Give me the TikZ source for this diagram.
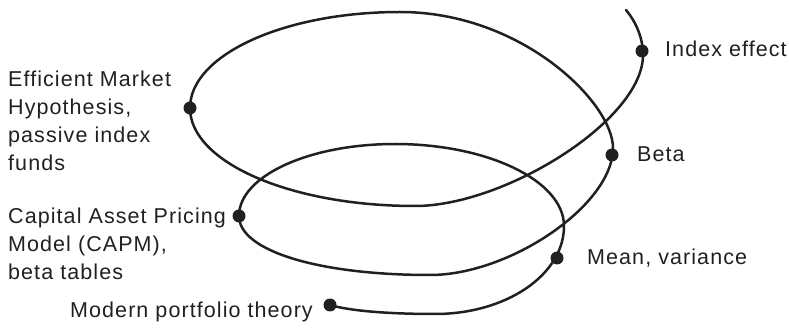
\documentclass[tikz,border=0pt]{standalone}
\usepackage{fontspec}
\setmainfont[LetterSpace=5]{Liberation Sans}
\definecolor{ink}{HTML}{231F20}
\begin{document}
\begin{tikzpicture}[x=1pt,y=-1pt,
  spiral/.style={draw=ink, line width=2.5pt, line cap=round, line join=round},
  dot/.style={circle, fill=ink, inner sep=0pt, minimum size=13pt},
  lbl/.style={anchor=base west, inner sep=0pt, align=left, text=ink, font=\fontsize{21.5}{28.3}\selectfont}]
\useasboundingbox (0,0) rectangle (789,328);
\coordinate (start) at (330,305);
\coordinate (b1) at (435,314);
\coordinate (r1) at (564,226);
\coordinate (t1) at (395,144);
\coordinate (l1) at (239,216);
\coordinate (b2) at (430,275);
\coordinate (r2) at (613,148);
\coordinate (t2) at (400,12);
\coordinate (l2) at (190,108);
\coordinate (b3) at (415,206);
\coordinate (r3) at (643,55);
\coordinate (end) at (626,10);
\draw[spiral] (start)
  .. controls (350,311) and (390,314) .. (b1)
  .. controls (506,314) and (564,275) .. (r1)
  .. controls (564,181) and (488,144) .. (t1)
  .. controls (309,144) and (239,176) .. (l1)
  .. controls (239,251) and (319,275) .. (b2)
  .. controls (510,275) and (613,205) .. (r2)
  .. controls (613,103) and (522,12) .. (t2)
  .. controls (284,12) and (190,55) .. (l2)
  .. controls (190,162) and (290,206) .. (b3)
  .. controls (505,206) and (643,120) .. (r3)
  .. controls (643,38) and (636,22) .. (end);
\node[dot] (mpt) at (330,305) {};
\node[dot] (mv) at (557,258) {};
\node[dot] (capm) at (239,216) {};
\node[dot] (beta) at (612,155) {};
\node[dot] (emh) at (190,108) {};
\node[dot] (idx) at (642,51) {};
\node[lbl] (temh) at (8,171) {Efficient Market\\Hypothesis,\\passive index\\funds};
\node[lbl] (tcapm) at (8,280) {Capital Asset Pricing\\Model (CAPM),\\beta tables};
\node[lbl] (tmpt) at (70,317) {Modern portfolio theory};
\node[lbl] (tidx) at (665,57) {Index effect};
\node[lbl] (tbeta) at (637,162) {Beta};
\node[lbl] (tmv) at (587,265) {Mean, variance};
\end{tikzpicture}
\end{document}
